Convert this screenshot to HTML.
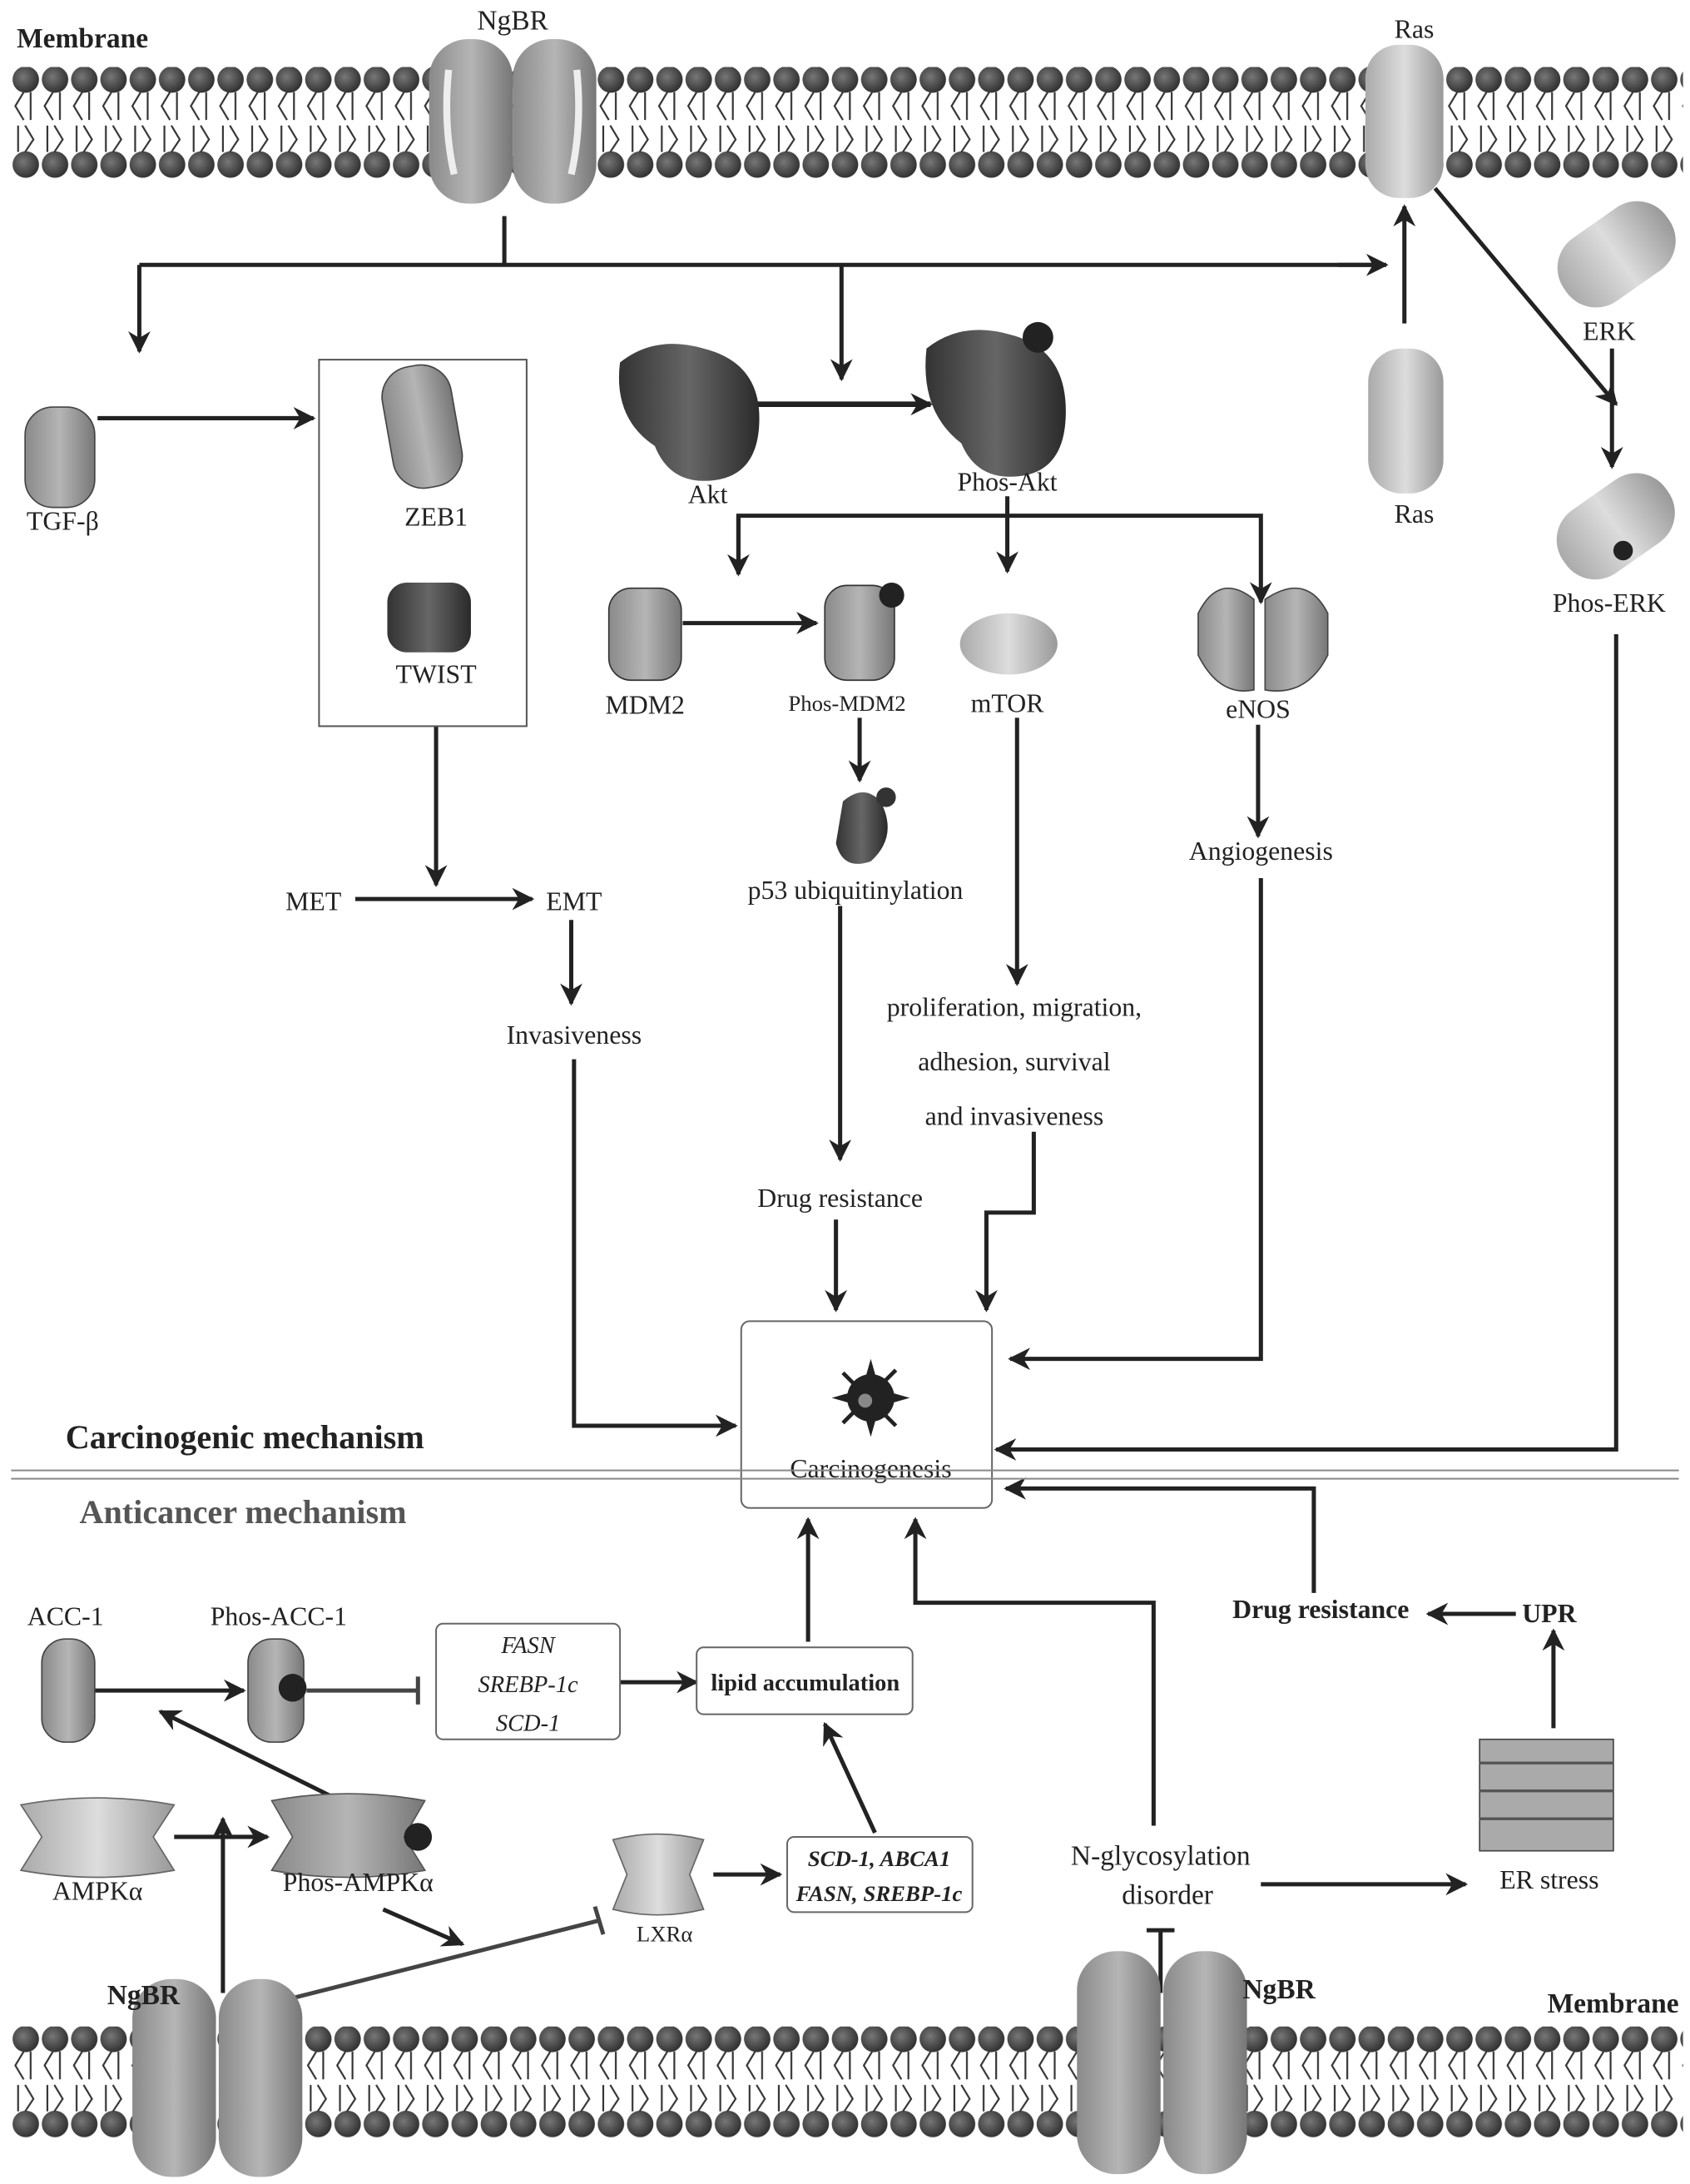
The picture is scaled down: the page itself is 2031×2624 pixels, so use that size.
<!DOCTYPE html>
<html><head><meta charset="utf-8"><style>
html,body{margin:0;padding:0;background:#fff}
svg{display:block}
text{font-family:"Liberation Serif",serif;fill:#222}
</style></head><body>
<svg width="2031" height="2624" viewBox="0 0 1213 1567" xmlns="http://www.w3.org/2000/svg">
<defs>
<radialGradient id="hd" cx="40%" cy="40%" r="60%"><stop offset="0" stop-color="#777"/><stop offset="1" stop-color="#333"/></radialGradient>
<g id="lip">
<circle cx="10.5" cy="9" r="9.5" fill="url(#hd)"/>
<circle cx="10.5" cy="70" r="9.5" fill="url(#hd)"/>
<path d="M9 18 L3 28 L9 38 M14 18 V38 M5 42 V61 M10 42 L16 52 L10 61" stroke="#333" stroke-width="1.3" fill="none"/>
</g>
<pattern id="memT" x="8" y="48" width="21" height="80" patternUnits="userSpaceOnUse"><use href="#lip"/></pattern>
<pattern id="memB" x="8" y="1454" width="21" height="80" patternUnits="userSpaceOnUse"><use href="#lip"/></pattern>
<linearGradient id="pg" x1="0" x2="1"><stop offset="0" stop-color="#8a8a8a"/><stop offset=".5" stop-color="#b5b5b5"/><stop offset="1" stop-color="#777"/></linearGradient>
<linearGradient id="pd" x1="0" x2="1"><stop offset="0" stop-color="#333"/><stop offset=".5" stop-color="#666"/><stop offset="1" stop-color="#2a2a2a"/></linearGradient>
<linearGradient id="pl" x1="0" x2="1"><stop offset="0" stop-color="#aaa"/><stop offset=".5" stop-color="#ddd"/><stop offset="1" stop-color="#999"/></linearGradient>
<marker id="a2" viewBox="0 0 10 10" refX="9" refY="5" markerWidth="20" markerHeight="16" orient="auto" markerUnits="userSpaceOnUse"><path d="M0 0 L10 5 L0 10 L3 5z" fill="#222"/></marker>
</defs>
<rect x="8" y="48" width="1200" height="80" fill="url(#memT)"/>
<rect x="8" y="1454" width="1200" height="80" fill="url(#memB)"/>
<text x="12" y="34" font-size="20" font-weight="bold">Membrane</text>
<text x="1205" y="1444" font-size="20" font-weight="bold" text-anchor="end">Membrane</text>

<g>
<rect x="308" y="28" width="60" height="118" rx="28" fill="url(#pg)"/>
<rect x="368" y="28" width="60" height="118" rx="28" fill="url(#pg)"/>
<path d="M322 50 Q318 90 326 125" stroke="#eee" stroke-width="5" fill="none"/>
<path d="M414 50 Q418 90 410 125" stroke="#eee" stroke-width="5" fill="none"/>
</g>
<text x="368" y="21" font-size="20" text-anchor="middle">NgBR</text>
<rect x="980" y="32" width="56" height="110" rx="24" fill="url(#pl)"/>
<text x="1015" y="27" font-size="19" text-anchor="middle">Ras</text>

<g stroke="#222" stroke-width="3" fill="none">
<path d="M362 155 V190 M100 190 H985"/>
<path d="M100 190 V252" marker-end="url(#a2)"/>
<path d="M604 190 V272" marker-end="url(#a2)"/>
<path d="M960 190 H995" marker-end="url(#a2)"/>
<path d="M1008 232 V148" marker-end="url(#a2)"/>
<path d="M1030 135 L1160 290" marker-end="url(#a2)"/>
<path d="M1157 250 V335" marker-end="url(#a2)"/>
<path d="M1160 455 V1040 H715" marker-end="url(#a2)"/>
<path d="M70 300 H225" marker-end="url(#a2)"/>
<path d="M313 521 V635" marker-end="url(#a2)"/>
<path d="M255 645 H382" marker-end="url(#a2)"/>
<path d="M410 660 V720" marker-end="url(#a2)"/>
<path d="M412 760 V1023 H528" marker-end="url(#a2)"/>
<path d="M525 290 H668" stroke-width="4" marker-end="url(#a2)"/>
<path d="M723 356 V410" marker-end="url(#a2)"/>
<path d="M530 412 V370 H905 V432" marker-end="url(#a2)"/>
<path d="M530 370 V412" marker-end="url(#a2)"/>
<path d="M490 447 H586" marker-end="url(#a2)"/>
<path d="M617 515 V560" marker-end="url(#a2)"/>
<path d="M603 650 V832" marker-end="url(#a2)"/>
<path d="M600 875 V940" marker-end="url(#a2)"/>
<path d="M730 515 V706" marker-end="url(#a2)"/>
<path d="M742 812 V870 H708 V940" marker-end="url(#a2)"/>
<path d="M903 520 V600" marker-end="url(#a2)"/>
<path d="M905 630 V975 H725" marker-end="url(#a2)"/>
<path d="M580 1178 V1090" marker-end="url(#a2)"/>
<path d="M828 1310 V1150 H657 V1090" marker-end="url(#a2)"/>
<path d="M943 1143 V1068 H722" marker-end="url(#a2)"/>
<path d="M1088 1158 H1025" marker-end="url(#a2)"/>
<path d="M1115 1240 V1170" marker-end="url(#a2)"/>
<path d="M905 1352 H1052" marker-end="url(#a2)"/>
<path d="M833 1430 V1385 M823 1385 H843"/>
<path d="M68 1213 H175" marker-end="url(#a2)"/>
<path d="M220 1213 H300 M300 1203 V1223" stroke="#444"/>
<path d="M445 1207 H500" marker-end="url(#a2)"/>
<path d="M125 1318 H192" marker-end="url(#a2)"/>
<path d="M240 1290 L115 1228" marker-end="url(#a2)"/>
<path d="M160 1430 V1305" marker-end="url(#a2)"/>
<path d="M275 1370 L332 1395" marker-end="url(#a2)"/>
<path d="M185 1440 L430 1378 M427 1368 L433 1388" stroke="#444"/>
<path d="M512 1345 H560" marker-end="url(#a2)"/>
<path d="M628 1315 L592 1237" marker-end="url(#a2)"/>
</g>

<rect x="982" y="250" width="54" height="104" rx="24" fill="url(#pl)"/>
<text x="1015" y="375" font-size="19" text-anchor="middle">Ras</text>
<g transform="rotate(-35 1160 182)"><rect x="1115" y="155" width="90" height="55" rx="26" fill="url(#pl)"/></g>
<text x="1155" y="244" font-size="19" text-anchor="middle">ERK</text>
<g transform="rotate(-35 1160 378)"><rect x="1115" y="350" width="90" height="55" rx="26" fill="url(#pl)"/></g>
<circle cx="1165" cy="395" r="7" fill="#222"/>
<text x="1155" y="439" font-size="19" text-anchor="middle">Phos-ERK</text>

<rect x="18" y="292" width="50" height="72" rx="20" fill="url(#pg)" stroke="#444"/>
<text x="45" y="380" font-size="19" text-anchor="middle">TGF-β</text>
<rect x="229" y="258" width="149" height="263" fill="none" stroke="#555" stroke-width="1.2"/>
<rect x="278" y="262" width="50" height="88" rx="22" fill="url(#pg)" stroke="#444" transform="rotate(-10 303 306)"/>
<text x="313" y="377" font-size="19" text-anchor="middle">ZEB1</text>
<rect x="278" y="418" width="60" height="50" rx="14" fill="url(#pd)"/>
<text x="313" y="490" font-size="19" text-anchor="middle">TWIST</text>
<text x="225" y="653" font-size="19" text-anchor="middle">MET</text>
<text x="412" y="653" font-size="19" text-anchor="middle">EMT</text>
<text x="412" y="749" font-size="19" text-anchor="middle">Invasiveness</text>

<path d="M445 260 Q470 240 505 250 Q545 260 545 300 Q545 345 505 345 Q480 345 470 320 Q440 300 445 260z" fill="url(#pd)"/>
<text x="508" y="361" font-size="19" text-anchor="middle">Akt</text>
<path d="M665 250 Q690 230 725 240 Q765 250 765 295 Q765 342 725 342 Q700 342 690 318 Q660 295 665 250z" fill="url(#pd)"/>
<circle cx="745" cy="242" r="11" fill="#222"/>
<text x="723" y="352" font-size="19" text-anchor="middle">Phos-Akt</text>
<rect x="437" y="422" width="52" height="66" rx="16" fill="url(#pg)" stroke="#333"/>
<text x="463" y="512" font-size="19" text-anchor="middle">MDM2</text>
<rect x="592" y="420" width="50" height="68" rx="16" fill="url(#pg)" stroke="#333"/>
<circle cx="640" cy="427" r="9" fill="#222"/>
<text x="608" y="510" font-size="16" text-anchor="middle">Phos-MDM2</text>
<path d="M605 575 Q620 562 632 575 Q645 600 625 618 Q605 625 600 605z" fill="url(#pd)"/>
<circle cx="636" cy="572" r="7" fill="#333"/>
<text x="614" y="645" font-size="19" text-anchor="middle">p53 ubiquitinylation</text>
<text x="603" y="866" font-size="19" text-anchor="middle">Drug resistance</text>
<ellipse cx="724" cy="462" rx="35" ry="22" fill="url(#pl)"/>
<text x="723" y="511" font-size="19" text-anchor="middle">mTOR</text>
<text x="728" y="729" font-size="19" text-anchor="middle">proliferation, migration,</text>
<text x="728" y="768" font-size="19" text-anchor="middle">adhesion, survival</text>
<text x="728" y="807" font-size="19" text-anchor="middle">and invasiveness</text>
<path d="M860 440 Q875 410 900 430 V495 Q875 500 860 470z" fill="url(#pg)" stroke="#444"/>
<path d="M953 440 Q938 410 908 430 V495 Q938 500 953 470z" fill="url(#pg)" stroke="#444"/>
<text x="903" y="515" font-size="19" text-anchor="middle">eNOS</text>
<text x="905" y="617" font-size="19" text-anchor="middle">Angiogenesis</text>

<rect x="532" y="948" width="180" height="134" rx="6" fill="#fff" stroke="#666" stroke-width="1.2"/>
<g transform="translate(625 1003)" fill="#222"><circle r="17"/><path d="M-28 0 L0 -8 L28 0 L0 8z M0 -28 L8 0 L0 28 L-8 0z M-19 -19 L19 19 L17 21 L-21 -17z M19 -19 L-19 19 L-21 17 L17 -21z"/><circle cx="-4" cy="2" r="5" fill="#888"/></g>
<text x="625" y="1060" font-size="19" text-anchor="middle">Carcinogenesis</text>
<text x="47" y="1039" font-size="24" font-weight="bold">Carcinogenic mechanism</text>
<path d="M8 1055 H1205 M8 1061 H1205" stroke="#888" stroke-width="1.2"/>
<text x="57" y="1093" font-size="24" font-weight="bold" style="fill:#555">Anticancer mechanism</text>

<text x="948" y="1161" font-size="19" font-weight="bold" text-anchor="middle">Drug resistance</text>
<text x="1112" y="1164" font-size="19" font-weight="bold" text-anchor="middle">UPR</text>
<rect x="1062" y="1248" width="96" height="80" fill="#aaa" stroke="#444"/>
<path d="M1062 1265 H1158 M1062 1285 H1158 M1062 1305 H1158" stroke="#555" stroke-width="2"/>
<text x="1112" y="1355" font-size="19" text-anchor="middle">ER stress</text>
<text x="833" y="1338" font-size="20" text-anchor="middle">N-glycosylation</text>
<text x="838" y="1366" font-size="20" text-anchor="middle">disorder</text>

<rect x="773" y="1400" width="60" height="160" rx="28" fill="url(#pg)"/>
<rect x="835" y="1400" width="60" height="160" rx="28" fill="url(#pg)"/>
<text x="918" y="1434" font-size="20" font-weight="bold" text-anchor="middle">NgBR</text>
<rect x="95" y="1420" width="60" height="142" rx="28" fill="url(#pg)"/>
<rect x="157" y="1420" width="60" height="142" rx="28" fill="url(#pg)"/>
<text x="103" y="1438" font-size="20" font-weight="bold" text-anchor="middle">NgBR</text>

<text x="47" y="1166" font-size="19" text-anchor="middle">ACC-1</text>
<rect x="30" y="1176" width="38" height="74" rx="17" fill="url(#pg)" stroke="#444"/>
<text x="200" y="1166" font-size="19" text-anchor="middle">Phos-ACC-1</text>
<rect x="178" y="1176" width="40" height="74" rx="17" fill="url(#pg)" stroke="#444"/>
<circle cx="210" cy="1211" r="10" fill="#222"/>
<rect x="313" y="1165" width="132" height="83" rx="5" fill="#fff" stroke="#666" stroke-width="1.2"/>
<text x="379" y="1186" font-size="17" font-style="italic" text-anchor="middle">FASN</text>
<text x="379" y="1214" font-size="17" font-style="italic" text-anchor="middle">SREBP-1c</text>
<text x="379" y="1242" font-size="17" font-style="italic" text-anchor="middle">SCD-1</text>
<rect x="500" y="1182" width="155" height="48" rx="5" fill="#fff" stroke="#666" stroke-width="1.2"/>
<text x="578" y="1213" font-size="17" font-weight="bold" text-anchor="middle">lipid accumulation</text>
<path d="M15 1295 Q70 1285 125 1295 L110 1318 L125 1342 Q70 1352 15 1342 L30 1318z" fill="url(#pl)" stroke="#666"/>
<text x="70" y="1363" font-size="19" text-anchor="middle">AMPKα</text>
<path d="M195 1292 Q250 1282 305 1292 L290 1318 L305 1342 Q250 1352 195 1342 L210 1318z" fill="url(#pg)" stroke="#555"/>
<circle cx="300" cy="1318" r="10" fill="#222"/>
<text x="257" y="1357" font-size="19" text-anchor="middle">Phos-AMPKα</text>
<path d="M440 1320 Q472 1312 505 1320 L495 1345 L505 1370 Q472 1378 440 1370 L450 1345z" fill="url(#pl)" stroke="#666"/>
<text x="477" y="1393" font-size="16" text-anchor="middle">LXRα</text>
<rect x="565" y="1318" width="133" height="54" rx="5" fill="#fff" stroke="#666" stroke-width="1.2"/>
<text x="631" y="1339" font-size="16" font-style="italic" font-weight="bold" text-anchor="middle">SCD-1, ABCA1</text>
<text x="631" y="1364" font-size="16" font-style="italic" font-weight="bold" text-anchor="middle">FASN, SREBP-1c</text>
</svg>
</body></html>
